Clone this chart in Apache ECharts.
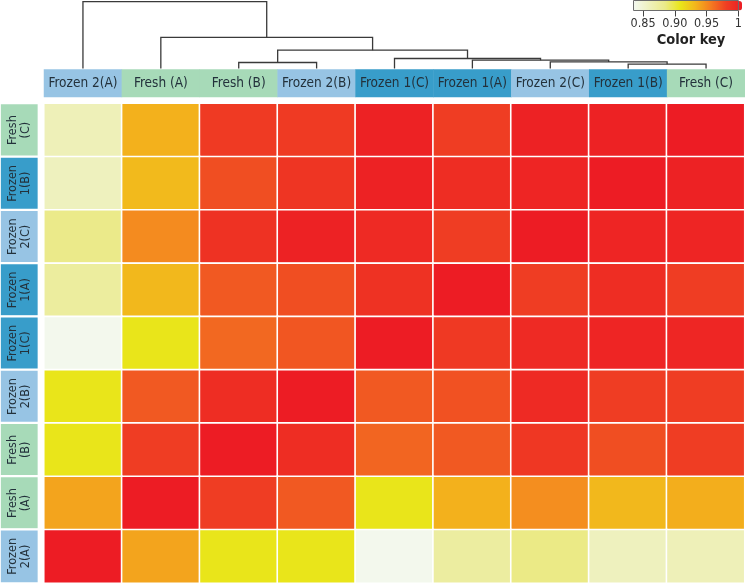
<!DOCTYPE html>
<html>
<head>
<meta charset="utf-8">
<script src="https://cdn.jsdelivr.net/npm/echarts@6/dist/echarts.min.js"></script>
<style>html,body{margin:0;padding:0;background:#fff;}#c{width:745px;height:584px;}</style>
</head>
<body>
<div id="c"></div>
<script>
// ---------- data ----------
const columns = ['Frozen 2(A)','Fresh (A)','Fresh (B)','Frozen 2(B)','Frozen 1(C)','Frozen 1(A)','Frozen 2(C)','Frozen 1(B)','Fresh (C)'];
const columnGroups = ['Frozen 2','Fresh','Fresh','Frozen 2','Frozen 1','Frozen 1','Frozen 2','Frozen 1','Fresh'];
const rowNames = ['Fresh\n(C)','Frozen\n1(B)','Frozen\n2(C)','Frozen\n1(A)','Frozen\n1(C)','Frozen\n2(B)','Fresh\n(B)','Fresh\n(A)','Frozen\n2(A)'];
const rowGroups = ['Fresh','Frozen 1','Frozen 2','Frozen 1','Frozen 1','Frozen 2','Fresh','Fresh','Frozen 2'];

// correlation values, one array per row (top to bottom), columns in the order above
const rowFreshC   = [0.861, 0.931, 0.979, 0.979, 0.996, 0.977, 0.996, 0.996, 1.000];
const rowFrozen1B = [0.858, 0.927, 0.970, 0.983, 0.996, 0.988, 0.994, 1.000, 0.996];
const rowFrozen2C = [0.882, 0.946, 0.985, 0.996, 0.990, 0.977, 1.000, 0.994, 0.994];
const rowFrozen1A = [0.873, 0.928, 0.966, 0.970, 0.985, 1.000, 0.977, 0.988, 0.977];
const rowFrozen1C = [0.836, 0.906, 0.960, 0.967, 1.000, 0.980, 0.990, 0.994, 0.993];
const rowFrozen2B = [0.906, 0.966, 0.988, 1.000, 0.966, 0.969, 0.990, 0.977, 0.977];
const rowFreshB   = [0.906, 0.977, 1.000, 0.988, 0.961, 0.966, 0.981, 0.970, 0.977];
const rowFreshA   = [0.936, 1.000, 0.977, 0.966, 0.906, 0.931, 0.945, 0.928, 0.932];
const rowFrozen2A = [1.000, 0.936, 0.906, 0.906, 0.836, 0.872, 0.883, 0.858, 0.861];
const matrixRows = [rowFreshC, rowFrozen1B, rowFrozen2C, rowFrozen1A, rowFrozen1C, rowFrozen2B, rowFreshB, rowFreshA, rowFrozen2A];

// column dendrogram (hclust-style merges: negative = leaf index + 1, positive = merge number)
const mergeLeft   = [-8, -7, -6, -5, -3, 5, -2, -1];
const mergeRight  = [-9,  1,  2,  3, -4, 4,  6,  7];
const mergeHeight = [0.065, 0.099, 0.125, 0.150, 0.090, 0.275, 0.465, 1.000];

// color key
const keyMin = 0.835, keyMax = 1.0;
const keyTicks = [0.85, 0.90, 0.95, 1.00];
const keyTickLabels = ['0.85', '0.90', '0.95', '1'];

// ---------- build ----------
const groupColor = {'Fresh': '#a7dab8', 'Frozen 1': '#389dca', 'Frozen 2': '#97c4e4'};
const FONT = "'Liberation Sans Narrow', 'DejaVu Sans Condensed', 'Roboto', sans-serif";

const heatData = [];
matrixRows.forEach((row, r) => row.forEach((v, c) => heatData.push([c, r, v])));

const headerData = columns.map((n, i) => ({value: [i, 0, 0], itemStyle: {color: groupColor[columnGroups[i]]}}));
const rowLabelData = rowNames.map((n, i) => ({value: [0, i, 0], itemStyle: {color: groupColor[rowGroups[i]]}}));

// dendrogram node positions
const nodeX = [], nodeH = [];
function pos(ref) { return ref < 0 ? [-ref - 1, 0] : [nodeX[ref - 1], nodeH[ref - 1]]; }
const dendroData = [];
for (let k = 0; k < mergeHeight.length; k++) {
  const a = pos(mergeLeft[k]), b = pos(mergeRight[k]);
  nodeX.push((a[0] + b[0]) / 2); nodeH.push(mergeHeight[k]);
  dendroData.push([a[0], a[1], b[0], b[1], mergeHeight[k]]);
}

const chart = echarts.init(document.getElementById('c'), null, {renderer: 'canvas'});
chart.setOption({
  animation: false,
  backgroundColor: '#fff',
  textStyle: {fontFamily: FONT},
  grid: [
    {left: 44, top: 103.5, width: 700.5, height: 479.5},      // heatmap
    {left: 44, top: 69.5, width: 701, height: 27.5},          // column headers
    {left: 0, top: 103.5, width: 38.5, height: 479.5},        // row labels
    {left: 44, top: 1.7, width: 701, height: 66.8},           // dendrogram
    {left: 633.5, top: 0.5, width: 109, height: 10, show: true, borderColor: '#6d6d6d', borderWidth: 1, backgroundColor: 'transparent', z: 10} // key
  ],
  xAxis: [
    {gridIndex: 0, type: 'category', data: columns, show: false},
    {gridIndex: 1, type: 'category', data: columns, show: false},
    {gridIndex: 2, type: 'category', data: ['r'], show: false},
    {gridIndex: 3, type: 'value', min: -0.5, max: 8.5, show: false},
    {gridIndex: 4, type: 'value', min: keyMin, max: keyMax, position: 'bottom',
      axisLine: {show: false}, splitLine: {show: false},
      axisTick: {show: true, length: 6, customValues: keyTicks, lineStyle: {color: '#444', width: 1}},
      axisLabel: {show: true, customValues: keyTicks, margin: 7, fontSize: 12.5, color: '#333', fontFamily: FONT,
        formatter: v => keyTickLabels[keyTicks.findIndex(t => Math.abs(t - v) < 1e-6)] || ''}}
  ],
  yAxis: [
    {gridIndex: 0, type: 'category', data: rowNames, inverse: true, show: false},
    {gridIndex: 1, type: 'category', data: ['h'], show: false},
    {gridIndex: 2, type: 'category', data: rowNames, inverse: true, show: false},
    {gridIndex: 3, type: 'value', min: 0, max: 1, show: false},
    {gridIndex: 4, type: 'value', min: 0, max: 1, show: false}
  ],
  visualMap: {
    type: 'continuous', seriesIndex: 0, min: keyMin, max: keyMax,
    orient: 'horizontal', left: 634, top: 1, itemWidth: 9.5, itemHeight: 108,
    padding: 0, calculable: false, text: null, hoverLink: false,
    inRange: {color: ['#f3f8ef', '#eef1bd', '#ebea8a', '#e9e61a', '#f3b51c', '#f47a20', '#ef3e23', '#ed1c24']}
  },
  series: [
    {type: 'heatmap', xAxisIndex: 0, yAxisIndex: 0, data: heatData,
      itemStyle: {borderColor: '#ffffff', borderWidth: 1.6}, emphasis: {disabled: true}},
    {type: 'heatmap', xAxisIndex: 1, yAxisIndex: 1, data: headerData,
      label: {show: true, formatter: p => columns[p.data.value[0]], fontSize: 13.5, color: '#23313b', fontFamily: FONT},
      emphasis: {disabled: true}},
    {type: 'heatmap', xAxisIndex: 2, yAxisIndex: 2, data: rowLabelData,
      itemStyle: {borderColor: '#ffffff', borderWidth: 2.2},
      label: {show: true, rotate: 90, formatter: p => rowNames[p.data.value[1]], fontSize: 12.5, lineHeight: 12.5, color: '#23313b', fontFamily: FONT, align: 'center'},
      emphasis: {disabled: true}},
    {type: 'custom', xAxisIndex: 3, yAxisIndex: 3, data: dendroData,
      dimensions: ['xl', 'yl', 'xr', 'yr', 'h'], encode: {x: [0, 2], y: [1, 3, 4]},
      renderItem: function (params, api) {
        const xl = api.value(0), yl = api.value(1), xr = api.value(2), yr = api.value(3), h = api.value(4);
        const pts = [api.coord([xl, yl]), api.coord([xl, h]), api.coord([xr, h]), api.coord([xr, yr])];
        return {type: 'polyline', shape: {points: pts}, style: {stroke: '#3a3a3a', lineWidth: 1.3, fill: null}};
      }, silent: true}
  ],
  graphic: [
    {type: 'text', x: 691, y: 40, style: {text: 'Color key', font: "bold 14.5px " + FONT, fill: '#222', align: 'center', verticalAlign: 'middle'}}
  ]
});
</script>
</body>
</html>
